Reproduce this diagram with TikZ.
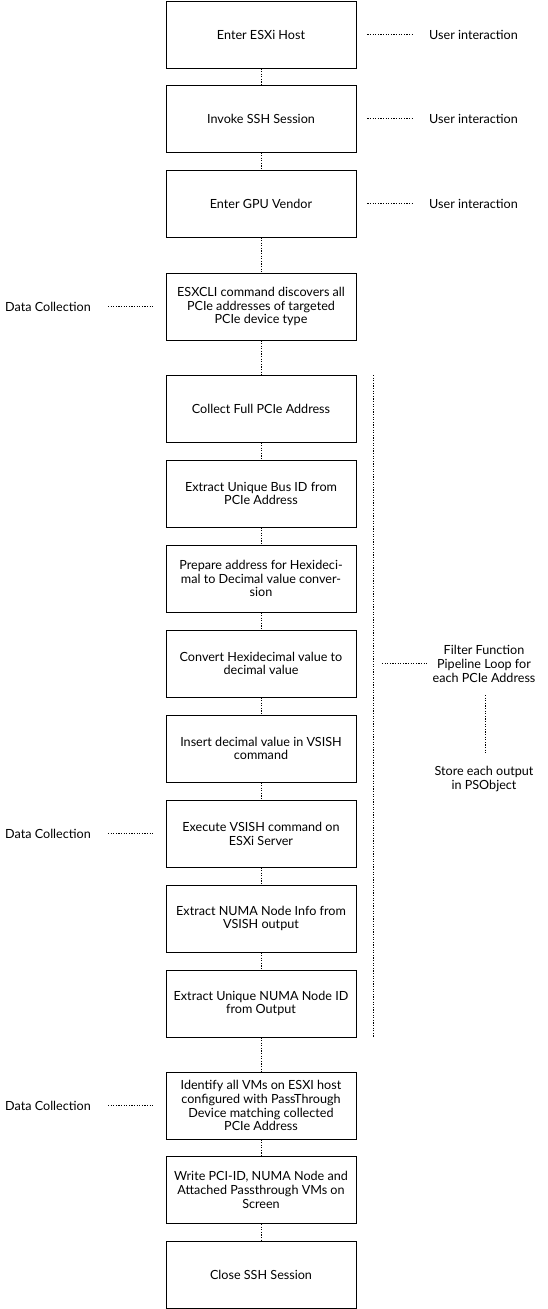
\documentclass[tikz,border=0pt]{standalone}
\usepackage{fontspec}
\setmainfont{Lato}
\begin{document}
\begin{tikzpicture}[x=1pt,y=-1pt,
  box/.style={draw, line width=0.9pt, minimum width=190pt, minimum height=67pt, align=center, inner sep=0pt, font=\fontsize{12.6}{13.8}\selectfont},
  dotl/.style={line width=0.9pt, dash pattern=on 1.2pt off 1.4pt},
  lbl/.style={align=center, inner sep=0pt, font=\fontsize{12.6}{13.8}\selectfont}]
\useasboundingbox (0,0) rectangle (547,1309);
\node[box] (b1) at (261,34.5) {Enter ESXi Host};
\node[box] (b2) at (261,118.5) {Invoke SSH Session};
\node[box] (b3) at (261,203.5) {Enter GPU Vendor};
\node[box] (b4) at (261,306.5) {ESXCLI command discovers all\\PCIe addresses of targeted\\PCIe device type};
\node[box] (b5) at (261,408.5) {Collect Full PCIe Address};
\node[box] (b6) at (261,493.5) {Extract Unique Bus ID from\\PCIe Address};
\node[box] (b7) at (261,578.5) {Prepare address for Hexideci-\\mal to Decimal value conver-\\sion};
\node[box] (b8) at (261,663.5) {Convert Hexidecimal value to\\decimal value};
\node[box] (b9) at (261,748.5) {Insert decimal value in VSISH\\command};
\node[box] (b10) at (261,833.5) {Execute VSISH command on\\ESXi Server};
\node[box] (b11) at (261,918.5) {Extract NUMA Node Info from\\VSISH output};
\node[box] (b12) at (261,1003.5) {Extract Unique NUMA Node ID\\from Output};
\node[box] (b13) at (261,1105.5) {Identify all VMs on ESXI host\\configured with PassThrough\\Device matching collected\\PCIe Address};
\node[box] (b14) at (261,1190) {Write PCI-ID, NUMA Node and\\Attached Passthrough VMs on\\Screen};
\node[box] (b15) at (261,1275) {Close SSH Session};
\foreach \a/\b in {b1/b2,b2/b3,b3/b4,b4/b5,b5/b6,b6/b7,b7/b8,b8/b9,b9/b10,b10/b11,b11/b12,b12/b13,b13/b14,b14/b15}
  \draw[dotl] (\a.south) -- (\b.north);
% user interaction
\foreach \i in {1,2,3} {
  \node[lbl, anchor=west] (u\i) at (429,0 |- b\i.center) {User interaction};
  \draw[dotl] ([xshift=11pt]b\i.east) -- ([xshift=-16pt]u\i.west);
}
% data collection
\foreach \i in {4,10,13} {
  \node[lbl, anchor=west] (d\i) at (5,0 |- b\i.center) {Data Collection};
  \draw[dotl] (108,0 |- b\i.center) -- ([xshift=-11pt]b\i.west);
}
% loop
\coordinate (lt) at (373,375);
\coordinate (lb) at (373,1037);
\draw[dotl] (lt) -- (lb);
\node[lbl] (ff) at (484,664) {Filter Function\\Pipeline Loop for\\each PCIe Address};
\coordinate (fl) at (382,663);
\draw[dotl] (fl) -- (427,663);
\node[lbl] (so) at (484,779) {Store each output\\in PSObject};
\coordinate (st) at (485,695);
\draw[dotl] (st) -- (485,753);
\end{tikzpicture}
\end{document}
